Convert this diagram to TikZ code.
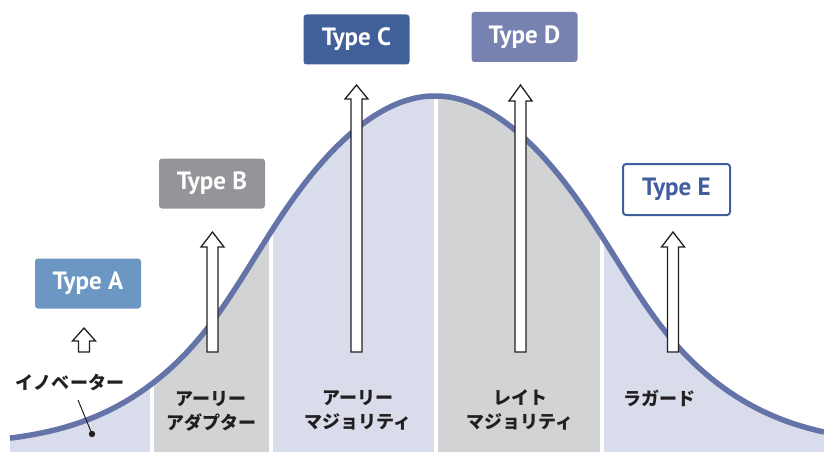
\documentclass[tikz,border=0pt]{standalone}
\usepackage{fontspec}
\setmainfont{PT Sans}
\newfontfamily\jpfont{Noto Sans CJK JP}
\definecolor{curveblue}{HTML}{6474A8}
\definecolor{lavfill}{HTML}{D9DCEA}
\definecolor{grayfill}{HTML}{D1D3D4}
\definecolor{colA}{HTML}{6B97C2}
\definecolor{colB}{HTML}{939598}
\definecolor{colC}{HTML}{415F98}
\definecolor{colD}{HTML}{7882B0}
\definecolor{colE}{HTML}{3F5F9E}
\definecolor{inkdark}{HTML}{231F20}
\newcommand\myopenarrow[4]{%
  \draw[openarrow] (#1-5.5,#2) -- (#1-5.5,#4) -- (#1-11.5,#4) -- (#1,#3)
    -- (#1+11.5,#4) -- (#1+5.5,#4) -- (#1+5.5,#2) -- cycle;}
\begin{document}
\begin{tikzpicture}[x=1pt,y=-1pt,
  typebox/.style={rounded corners=3pt, minimum width=106pt, minimum height=50pt,
    text=white, font=\bfseries\fontsize{25}{27}\selectfont, inner sep=0pt},
  jplabel/.style={font=\jpfont\bfseries\fontsize{18}{24}\selectfont, align=center, text=inkdark},
  openarrow/.style={draw=inkdark, fill=white, line width=1.3pt, line join=miter},
  sepline/.style={white, line width=3.5pt},
  declare function={uu(\t)=(\t-435)/100; aa(\t)=(\t-435)/180;
    bell(\t)=445-349*exp(-(uu(\t)*uu(\t))/(4.6+1.7*exp(-aa(\t)*aa(\t)*aa(\t)*aa(\t))));}
]
\useasboundingbox (0,0) rectangle (824,452);
\def\bellpath{plot[domain=10:824, samples=160, smooth, variable=\t] (\t, {bell(\t)})}
% areas under the curve
\begin{scope}
  \clip \bellpath -- (824,452) -- (10,452) -- cycle;
  \fill[lavfill] (0,0) rectangle (824,452);
  \fill[grayfill] (152,0) rectangle (271,452);
  \fill[grayfill] (436,0) rectangle (602,452);
  \draw[sepline] (152,0) -- (152,452);
  \draw[sepline] (271,0) -- (271,452);
  \draw[sepline] (436,0) -- (436,452);
  \draw[sepline] (602,0) -- (602,452);
\end{scope}
% bell curve
\draw[curveblue, line width=5.5pt] \bellpath;
% open arrows
\myopenarrow{84}{352}{328}{341}
\myopenarrow{212.5}{352}{232}{247}
\myopenarrow{356.5}{352}{85}{99}
\myopenarrow{520.5}{352}{85}{101}
\myopenarrow{673}{352}{232}{247}
% type boxes
\node[typebox, fill=colA] (tA) at (88,283.5) {Type A};
\node[typebox, fill=colB] (tB) at (212,183.5) {Type B};
\node[typebox, fill=colC] (tC) at (356.5,39.5) {Type C};
\node[typebox, fill=colD] (tD) at (524.5,37) {Type D};
\node[typebox, fill=white, draw=colE, line width=2pt, text=colE,
  minimum width=107pt, minimum height=51pt] (tE) at (676.5,189.5) {Type E};
% labels
\node[jplabel] (inn) at (70,383) {イノベーター};
\node[jplabel] (ead) at (211,411) {アーリー\\アダプター};
\node[jplabel] (ema) at (358,410) {アーリー\\マジョリティ};
\node[jplabel] (lma) at (520,410) {レイト\\マジョリティ};
\node[jplabel] (lag) at (659,398) {ラガード};
% leader
\coordinate (leadtop) at (78,400);
\coordinate (leaddot) at (92,434);
\draw[inkdark, line width=1pt] (leadtop) -- (leaddot);
\fill[inkdark] (leaddot) circle (3.2pt);
\end{tikzpicture}
\end{document}
